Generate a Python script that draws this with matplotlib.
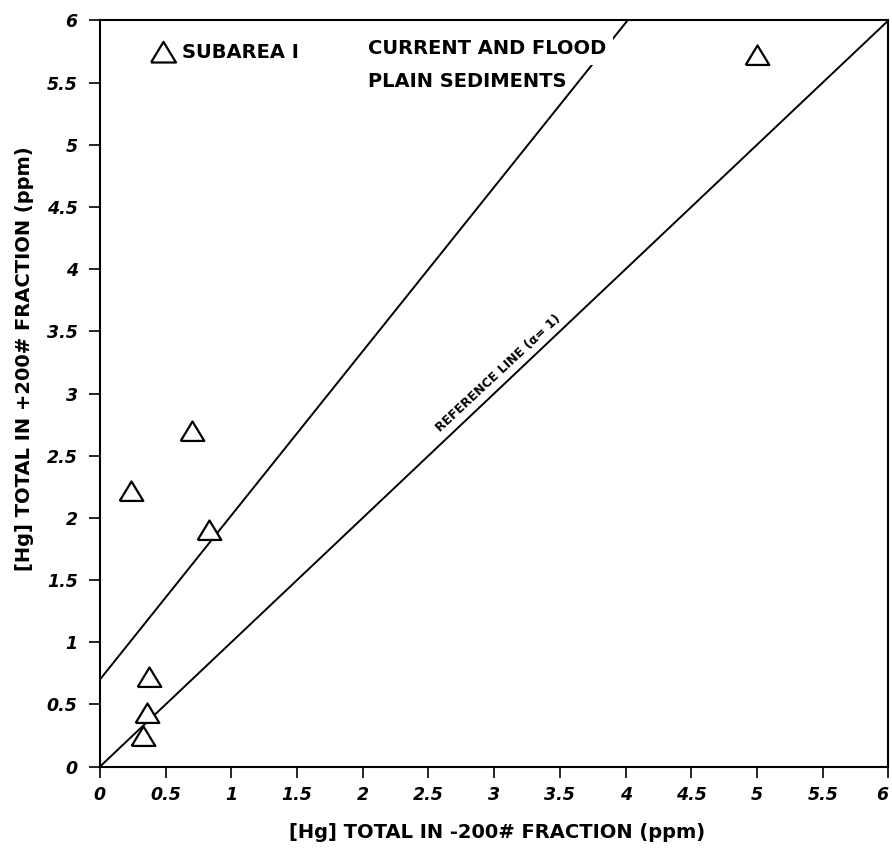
import numpy as np
import matplotlib.pyplot as plt

# Subarea I points (ppm)
hg_fina = [0.24, 0.70, 0.83, 0.37, 0.36, 0.33, 5.00]
hg_grossa = [2.22, 2.70, 1.90, 0.72, 0.43, 0.25, 5.72]

# linha das amostras de sedimento e linha de referencia
intercepto = 0.70
inclinacao = 1.32
x_linha = [0, 6]

ticks = [0, 0.5, 1, 1.5, 2, 2.5, 3, 3.5, 4, 4.5, 5, 5.5, 6]
tick_labels = ['0', '0.5', '1', '1.5', '2', '2.5', '3', '3.5', '4', '4.5', '5', '5.5', '6']

plt.rcParams['font.family'] = ['DejaVu Sans']

fig = plt.figure(figsize=(8.92, 8.49), dpi=100)
ax = fig.add_axes([0.112, 0.097, 0.884, 0.879])

tri = [[-1, -0.8], [1, -0.8], [0, 0.85], [-1, -0.8]]

x_arr = np.array(x_linha)
ax.plot(x_arr, intercepto + inclinacao * x_arr, color='black', lw=1.4, zorder=2)
ax.plot(x_arr, x_arr, color='black', lw=1.4, zorder=2)

ax.plot(hg_fina, hg_grossa, linestyle='none', marker=tri, markersize=17,
        markerfacecolor='white', markeredgecolor='black', markeredgewidth=1.6,
        zorder=3, clip_on=False)

# legenda manual
ax.plot([0.08], [0.957], transform=ax.transAxes, marker=tri, markersize=18,
        markerfacecolor='white', markeredgecolor='black', markeredgewidth=1.6)
ax.text(0.104, 0.957, 'SUBAREA I', transform=ax.transAxes, fontsize=14,
        fontweight='bold', ha='left', va='center')

caixa = dict(facecolor='white', edgecolor='none', pad=5)
ax.text(0.34, 0.962, 'CURRENT AND FLOOD', transform=ax.transAxes, fontsize=14,
        fontweight='bold', ha='left', va='center', bbox=caixa, zorder=4)
ax.text(0.34, 0.918, 'PLAIN SEDIMENTS', transform=ax.transAxes, fontsize=14,
        fontweight='bold', ha='left', va='center', zorder=4)

ax.text(3.03, 3.16, 'REFERENCE LINE (\u03b1= 1)', fontsize=9, fontweight='bold',
        rotation=43, ha='center', va='center', rotation_mode='anchor')

ax.set_xlim(0, 6)
ax.set_ylim(0, 6)
ax.set_xticks(ticks)
ax.set_xticklabels(tick_labels)
ax.set_yticks(ticks)
ax.set_yticklabels(tick_labels)
for lab in ax.get_xticklabels() + ax.get_yticklabels():
    lab.set_fontweight('bold')
    lab.set_fontstyle('italic')
    lab.set_fontsize(12.5)
# o ultimo rotulo fica rente a borda
ax.get_xticklabels()[-1].set_ha('right')

ax.tick_params(direction='out', length=8, width=1.2, pad=6)
ax.tick_params(axis='y', pad=8)
for sp in ax.spines.values():
    sp.set_linewidth(1.5)

ax.set_xlabel('[Hg] TOTAL IN -200# FRACTION (ppm)', fontsize=14, fontweight='bold')
ax.set_ylabel('[Hg] TOTAL IN +200# FRACTION (ppm)', fontsize=14, fontweight='bold')
ax.xaxis.set_label_coords(0.504, -0.076)
ax.yaxis.set_label_coords(-0.084, 0.547)

fig.savefig('out.png', dpi=100)
